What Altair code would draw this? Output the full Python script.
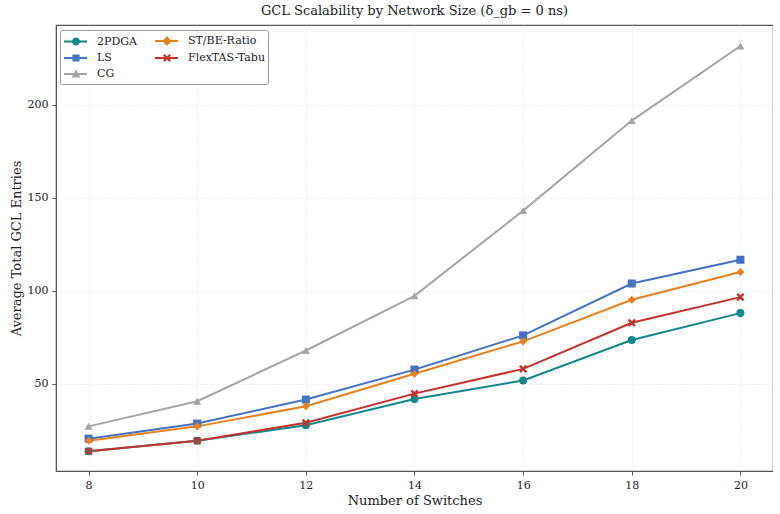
import math
import altair as alt
import pandas as pd

switches = [8, 10, 12, 14, 16, 18, 20]
methods = ["2PDGA", "LS", "CG", "ST/BE-Ratio", "FlexTAS-Tabu"]
v_2pdga = [13.8, 19.5, 27.8, 41.9, 51.9, 73.6, 88.1]
v_ls = [20.6, 28.7, 41.6, 57.7, 76.1, 104.0, 116.8]
v_cg = [27.2, 40.7, 68.0, 97.4, 143.2, 191.6, 231.7]
v_stbe = [19.5, 27.2, 38.0, 55.5, 72.9, 95.3, 110.2]
v_flex = [13.8, 19.5, 29.1, 44.8, 58.1, 82.9, 96.7]
x_ticks = [8, 10, 12, 14, 16, 18, 20]
y_ticks = [50, 100, 150, 200]

colors = ["#13898c", "#4472c4", "#a5a5a5", "#e8821f", "#c8302c"]
xshape = "M-1,-0.6L-0.6,-1L0,-0.4L0.6,-1L1,-0.6L0.4,0L1,0.6L0.6,1L0,0.4L-0.6,1L-1,0.6L-0.4,0Z"
shapes = ["circle", "square", "triangle-up", "diamond", xshape]

# legend glyphs (line segment + marker) in px, scaled to symbol units (half-size 7 px)
LEG_SIZE = 196
U = 7.0
CX = 5.0


def poly(pts):
    return "M" + "L".join(f"{a / U:.3f},{b / U:.3f}" for a, b in pts) + "Z"


BAR = poly([(-7, -1), (16, -1), (16, 1), (-7, 1)])
circ = poly([(CX + 4 * math.cos(2 * math.pi * i / 20), 4 * math.sin(2 * math.pi * i / 20)) for i in range(20)])
sq = poly([(CX - 3.6, -3.6), (CX + 3.6, -3.6), (CX + 3.6, 3.6), (CX - 3.6, 3.6)])
tri = poly([(CX, -4.6), (CX + 4.4, 3.4), (CX - 4.4, 3.4)])
dia = poly([(CX, -4.8), (CX + 4.6, 0), (CX, 4.8), (CX - 4.6, 0)])
s = 4.0
xx = poly([(CX - s, -0.6 * s), (CX - 0.6 * s, -s), (CX, -0.4 * s), (CX + 0.6 * s, -s), (CX + s, -0.6 * s),
           (CX + 0.4 * s, 0), (CX + s, 0.6 * s), (CX + 0.6 * s, s), (CX, 0.4 * s), (CX - 0.6 * s, s),
           (CX - s, 0.6 * s), (CX - 0.4 * s, 0)])
legend_shapes = [BAR + circ, BAR + sq, BAR + tri, BAR + dia, BAR + xx]

series = {"2PDGA": v_2pdga, "LS": v_ls, "CG": v_cg, "ST/BE-Ratio": v_stbe, "FlexTAS-Tabu": v_flex}
rows = []
for m, vals in series.items():
    for sw, v in zip(switches, vals):
        rows.append({"Method": m, "Switches": sw, "Entries": v})
df = pd.DataFrame(rows)

FONT = "DejaVu Serif"

x = alt.X("Switches:Q", title="Number of Switches",
          scale=alt.Scale(domain=[7.4, 20.6], nice=False, zero=False),
          axis=alt.Axis(values=x_ticks, format="d"))
y = alt.Y("Entries:Q", title="Average Total GCL Entries",
          scale=alt.Scale(domain=[3.2, 243], nice=False, zero=False),
          axis=alt.Axis(values=y_ticks, format="d"))
cscale = alt.Scale(domain=methods, range=colors)

lines = alt.Chart(df).mark_line(strokeWidth=2).encode(
    x=x, y=y, color=alt.Color("Method:N", scale=cscale, legend=None), detail="Method:N")
points = alt.Chart(df).mark_point(filled=True, size=65, opacity=1).encode(
    x=x, y=y, color=alt.Color("Method:N", scale=cscale, legend=None),
    shape=alt.Shape("Method:N", scale=alt.Scale(domain=methods, range=shapes), legend=None))
leg = alt.Legend(title=None, orient="none", legendX=4, legendY=5, columns=2, direction="vertical",
                 symbolSize=LEG_SIZE, symbolOpacity=1)
legend_layer = alt.Chart(df).transform_filter("datum.Switches < 0").mark_point(
    filled=True, size=LEG_SIZE, opacity=1).encode(
    x=x, y=y,
    color=alt.Color("Method:N", scale=cscale, legend=leg),
    shape=alt.Shape("Method:N", scale=alt.Scale(domain=methods, range=legend_shapes), legend=leg))

chart = alt.layer(lines, points, legend_layer).resolve_scale(
    shape="independent", color="independent").properties(
    width=717, height=446,
    title=alt.Title("GCL Scalability by Network Size (δ_gb = 0 ns)", font=FONT,
                    fontSize=13, fontWeight="normal", color="#222", offset=7),
    padding={"left": 10, "top": 5, "right": 0, "bottom": 0},
).configure_view(stroke="#555", strokeWidth=1.2).configure_axis(
    labelFont=FONT, titleFont=FONT, labelFontSize=11, titleFontSize=13,
    titleFontWeight="normal", labelColor="#222", titleColor="#222",
    grid=True, gridColor="#dddddd", gridDash=[1, 2], gridWidth=0.8,
    domainColor="#555", tickColor="#555", tickSize=4, labelPadding=4,
).configure_legend(
    labelFont=FONT, labelFontSize=11, labelColor="#222",
    strokeColor="#999", fillColor="white", padding=3, cornerRadius=2,
    columnPadding=15, rowPadding=1, labelOffset=18,
)

chart.save("out.html", embed_options={"renderer": "svg", "actions": False})
